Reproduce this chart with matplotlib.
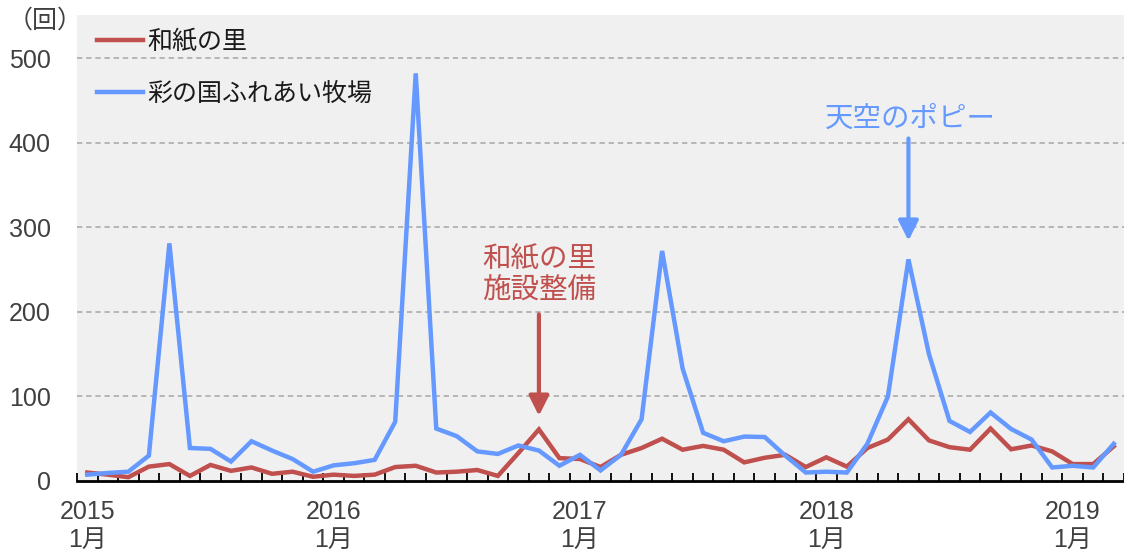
import matplotlib
matplotlib.use("Agg")
import matplotlib.pyplot as plt
import numpy as np

plt.rcParams['font.family'] = ['Liberation Sans', 'Noto Sans CJK JP', 'DejaVu Sans']

# Monthly data 2015-01 .. 2019-03
washi = [10, 7.5, 4.5, 17, 20, 6, 19, 12, 16, 8.5, 11, 5, 7.5, 6, 7.5, 16.5,
         18, 10, 11, 13, 6, 33, 61, 27, 26, 16.5, 31, 39, 50, 37, 41.5, 37,
         22, 27.5, 31, 16.5, 28, 17, 39, 49, 73, 48, 40, 37, 62, 37.5, 42, 35,
         20, 20, 41]
bokujo = [7.5, 9.5, 11, 30, 281, 39, 38, 23, 47, 36, 26, 11, 18.5, 21, 25, 70,
          482, 62, 53, 35, 32, 42, 36, 18, 31, 12.5, 31, 73, 272, 133, 57, 47,
          52.5, 52, 30, 10, 11, 10, 44, 100, 262, 150, 71, 58, 81, 61.5, 49, 16,
          18, 16, 44]
series_names = ['和紙の里', '彩の国ふれあい牧場']
year_labels = ['2015\n1月', '2016\n1月', '2017\n1月', '2018\n1月', '2019\n1月']
year_pos = [0, 12, 24, 36, 48]
y_ticks = [0, 100, 200, 300, 400, 500]

RED = '#c0504d'
BLUE = '#6699ff'
TXT = '#404040'

W, H = 1124, 549
fig = plt.figure(figsize=(W / 100, H / 100), dpi=100)
ax = fig.add_axes([77 / W, (H - 481) / H, (W - 77) / W, (481 - 15) / H])
ax.set_facecolor('#f0f0f0')

x = np.arange(len(washi))
ax.plot(x, washi, color=RED, lw=3.2, label=series_names[0], solid_joinstyle='miter', zorder=3)
ax.plot(x, bokujo, color=BLUE, lw=3.2, label=series_names[1], solid_joinstyle='miter', zorder=4)

ax.set_xlim(-0.5, len(washi) - 0.5)
ax.set_ylim(0, 551)

ax.set_yticks(y_ticks)
ax.set_yticklabels([str(v) for v in y_ticks], fontsize=18, color=TXT)
ax.tick_params(axis='y', length=0, pad=19)
for v in y_ticks[1:]:
    ax.axhline(v, color='#a6a6a6', lw=1.1, ls=(0, (3.5, 2.5)), zorder=1)

ax.set_xticks(year_pos)
ax.set_xticklabels(year_labels, fontsize=18, color=TXT, linespacing=1.2)
ax.tick_params(axis='x', which='major', length=0, pad=14)
ax.set_xticks(np.arange(-0.5, len(washi) + 0.5, 1), minor=True)
ax.tick_params(axis='x', which='minor', direction='in', length=6, width=1.3, color='black')

for s in ['top', 'right', 'left']:
    ax.spines[s].set_visible(False)
ax.spines['bottom'].set_color('black')
ax.spines['bottom'].set_linewidth(2)
ax.spines['bottom'].set_zorder(5)

leg = ax.legend(loc='upper left', bbox_to_anchor=(97 / W, 1 - 30 / H),
                bbox_transform=fig.transFigure, frameon=False, fontsize=18,
                handlelength=1.85, handletextpad=0.15, labelspacing=1.1,
                borderpad=0, borderaxespad=0)
for t in leg.get_texts():
    t.set_color('#1a1a1a')

fig.text(8 / W, 1 - 21 / H, '（回）', fontsize=18, color=TXT, va='center', ha='left')

# annotations
ax.annotate('', xy=(22, 77), xytext=(22, 197),
            arrowprops=dict(arrowstyle='-|>', color=RED, lw=3, mutation_scale=30,
                            shrinkA=0, shrinkB=0))
ax.text(22, 243, '和紙の里\n施設整備', color=RED, fontsize=20.5, ha='center', va='center',
        linespacing=1.25)
ax.annotate('', xy=(40, 284), xytext=(40, 405),
            arrowprops=dict(arrowstyle='-|>', color=BLUE, lw=3, mutation_scale=30,
                            shrinkA=0, shrinkB=0))
ax.text(40.1, 427, '天空のポピー', color=BLUE, fontsize=20.5, ha='center', va='center')

fig.savefig('out.png', dpi=100)
